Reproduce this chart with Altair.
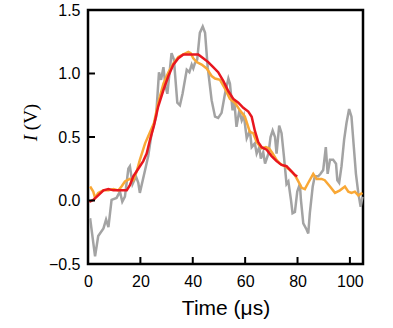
import altair as alt
import pandas as pd

# ---- data ----
gray_t = [0.8, 2.7, 3.9, 5.9, 6.9, 7.8, 9.0, 10.9, 12.2, 13.1, 14.1, 15.4, 16.0, 17.0, 18.3, 19.2, 19.8,
          21.8, 23.0, 24.3, 26.0, 27.1, 27.9, 28.8, 29.6, 30.3, 31.9, 32.8, 34.1, 35.1, 36.1, 37.7, 38.7,
          39.6, 40.2, 40.8, 41.7, 42.7, 43.8, 44.7, 45.7, 47.2, 48.5, 49.7, 51.0, 52.3, 53.6, 54.2, 55.2,
          55.8, 56.7, 57.8, 58.7, 59.5, 60.6, 61.8, 62.5, 63.7, 64.4, 65.4, 66.0, 66.9, 67.6, 68.9, 69.7,
          70.5, 71.4, 72.0, 73.0, 73.9, 74.8, 75.8, 76.5, 77.5, 78.1, 79.0, 79.9, 80.9, 81.3, 82.2, 83.5,
          84.1, 84.7, 85.8, 86.6, 87.9, 88.8, 89.8, 90.8, 91.5, 92.4, 93.6, 94.7, 95.2, 95.9, 96.8, 97.8,
          98.7, 99.7, 100.6, 101.5, 102.3, 103.2, 104.1, 104.8]
gray_v = [-0.14, -0.44, -0.28, -0.22, -0.15, -0.21, 0.005, 0.02, 0.07, -0.01, 0.03, 0.25, 0.27, 0.13, 0.19, 0.14, 0.06,
          0.24, 0.35, 0.53, 0.66, 1.01, 0.95, 1.05, 0.90, 0.84, 1.16, 1.11, 0.77, 0.75, 0.84, 1.03, 1.01,
          1.07, 1.04, 1.08, 1.11, 1.32, 1.37, 1.32, 1.05, 0.79, 0.66, 0.65, 0.69, 0.84, 0.96, 0.92, 0.71,
          0.79, 0.58, 0.71, 0.63, 0.67, 0.49, 0.55, 0.42, 0.45, 0.37, 0.42, 0.33, 0.38, 0.29, 0.37, 0.50,
          0.55, 0.50, 0.37, 0.59, 0.53, 0.35, 0.13, 0.15, 0.004, -0.10, -0.09, 0.07, 0.13, 0.004, -0.18, -0.23,
          -0.26, -0.10, 0.11, 0.19, 0.19, 0.21, 0.24, 0.42, 0.21, 0.32, 0.32, 0.29, 0.16, 0.14, 0.27, 0.48,
          0.61, 0.72, 0.66, 0.42, 0.21, 0.06, -0.05, 0.03]

orange_t = [0.8, 2.0, 2.7, 3.9, 5.9, 7.8, 9.7, 11.6, 12.8, 14.1, 16.0, 17.3, 18.6, 19.8, 21.8, 23.7, 25.2,
            26.8, 28.8, 30.7, 32.6, 34.5, 36.4, 38.3, 39.2, 40.2, 41.5, 43.4, 45.3, 47.2, 48.5, 50.4, 52.3,
            54.2, 56.1, 58.0, 59.9, 61.8, 63.1, 64.4, 66.3, 67.9, 69.2, 70.5, 72.0, 73.3, 75.2, 77.1, 79.0,
            80.3, 81.6, 82.8, 84.1, 86.0, 87.3, 89.2, 90.4, 92.4, 94.3, 96.2, 98.1, 99.4, 100.6, 101.9, 103.2, 104.8]
orange_v = [0.11, 0.07, 0.02, 0.06, 0.08, 0.08, 0.09, 0.08, 0.11, 0.15, 0.17, 0.16, 0.23, 0.32, 0.45, 0.54, 0.61,
            0.77, 0.92, 1.01, 1.08, 1.13, 1.15, 1.17, 1.16, 1.12, 1.09, 1.07, 1.04, 0.98, 0.96, 0.95, 0.88,
            0.80, 0.77, 0.71, 0.66, 0.54, 0.53, 0.46, 0.41, 0.42, 0.41, 0.37, 0.32, 0.29, 0.27, 0.24, 0.20,
            0.15, 0.10, 0.09, 0.14, 0.21, 0.17, 0.17, 0.16, 0.11, 0.06, 0.08, 0.11, 0.07, 0.06, 0.07, 0.04, 0.06]

red_t = [0.5, 2.0, 3.9, 5.9, 7.8, 9.7, 11.6, 13.5, 14.8, 16.0, 17.3, 19.2, 21.1, 22.4, 23.7, 25.2, 26.8,
         28.8, 30.7, 32.6, 34.5, 36.4, 38.3, 40.2, 42.1, 44.0, 45.9, 47.8, 49.7, 51.7, 53.6, 55.5, 57.4,
         59.3, 61.2, 62.5, 63.7, 65.0, 66.3, 68.2, 70.1, 72.0, 73.9, 75.8, 77.7, 79.0, 79.9]
red_v = [-0.01, 0.004, 0.04, 0.08, 0.09, 0.08, 0.08, 0.08, 0.08, 0.12, 0.19, 0.25, 0.31, 0.37, 0.48, 0.59, 0.74,
         0.87, 0.98, 1.07, 1.12, 1.15, 1.15, 1.15, 1.15, 1.12, 1.09, 1.05, 1.01, 0.94, 0.86, 0.80, 0.77,
         0.73, 0.70, 0.66, 0.55, 0.46, 0.42, 0.40, 0.35, 0.31, 0.28, 0.27, 0.23, 0.20, 0.19]

x_ticks = [0, 20, 40, 60, 80, 100]
y_ticks = [-0.5, 0.0, 0.5, 1.0, 1.5]

gray_df = pd.DataFrame({"t": gray_t, "v": gray_v})
orange_df = pd.DataFrame({"t": orange_t, "v": orange_v})
red_df = pd.DataFrame({"t": red_t, "v": red_v})
xt_df = pd.DataFrame({"t": x_ticks})
yt_df = pd.DataFrame({"v": y_ticks})

W, H = 275, 254
xs = alt.Scale(domain=[0, 105], nice=False, zero=False)
ys = alt.Scale(domain=[-0.5, 1.5], nice=False, zero=False)

x_axis = alt.Axis(values=x_ticks, format="d", domain=False, ticks=False, grid=False,
                  labelFont="Liberation Sans", labelFontSize=16, labelColor="black",
                  labelPadding=9, title="Time (μs)", titleFont="Liberation Sans",
                  titleFontSize=21, titleFontWeight="normal", titleColor="black", titlePadding=8,
                  labelFlush=False)
y_axis = alt.Axis(values=y_ticks, format=".1f", domain=False, ticks=False, grid=False,
                  labelFont="Liberation Sans", labelFontSize=16, labelColor="black",
                  labelPadding=8, title="", labelFlush=False)

X = alt.X("t:Q", scale=xs, axis=x_axis, title="Time (μs)")
Y = alt.Y("v:Q", scale=ys, axis=y_axis, title="")

gray = alt.Chart(gray_df).mark_line(color="#a3a3a3", strokeWidth=2.5).encode(x=X, y=Y)
orange = alt.Chart(orange_df).mark_line(color="#f9a836", strokeWidth=2.5).encode(x=X, y=Y)
red = alt.Chart(red_df).mark_line(color="#e8161e", strokeWidth=2.5).encode(x=X, y=Y)

ytick = alt.Chart(yt_df).mark_rule(color="black", strokeWidth=2).encode(
    y=Y, x=alt.value(0), x2=alt.value(7),
)
xtick = alt.Chart(xt_df).mark_rule(color="black", strokeWidth=2).encode(
    x=X, y=alt.value(H), y2=alt.value(H - 7),
)

ttl_i = alt.Chart(pd.DataFrame({"s": ["I"]})).mark_text(
    angle=270, font="Liberation Serif", fontStyle="italic", fontSize=19,
    align="center", baseline="middle", color="black").encode(
    text="s:N", x=alt.value(-57), y=alt.value(128))
ttl_v = alt.Chart(pd.DataFrame({"s": ["(V)"]})).mark_text(
    angle=270, font="Liberation Serif", fontSize=19,
    align="center", baseline="middle", color="black").encode(
    text="s:N", x=alt.value(-57), y=alt.value(107))

chart = alt.layer(gray, orange, red, ytick, xtick, ttl_i, ttl_v).properties(
    width=W, height=H,
    autosize=alt.AutoSizeParams(type="none"),
    padding={"left": 88, "top": 10, "right": 30, "bottom": 64},
    background="white",
).configure_view(stroke="black", strokeWidth=2.5)

chart.save("out.html", embed_options={"renderer": "svg", "actions": False})
